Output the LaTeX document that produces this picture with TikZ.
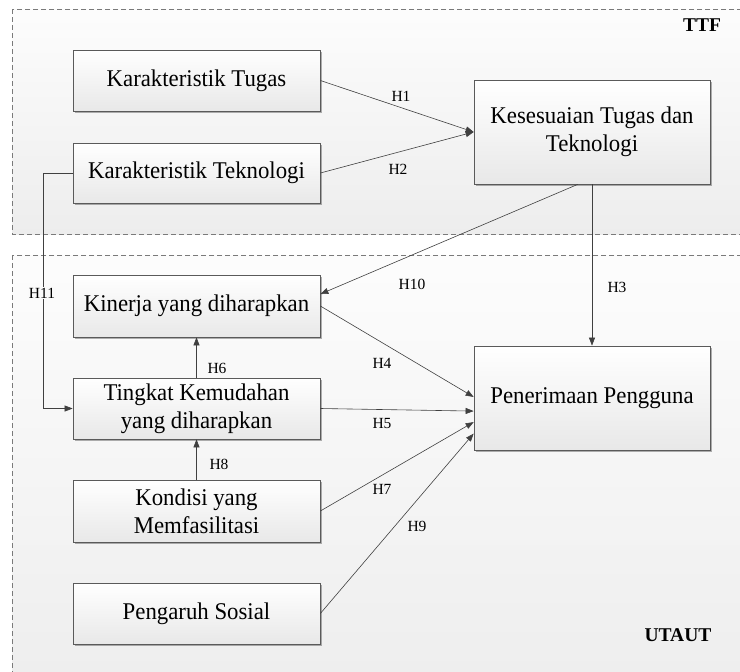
\documentclass[tikz,border=0pt]{standalone}
\usepackage{fontspec}
\setmainfont{Liberation Serif}
\newfontfamily\boxfont{Liberation Serif}[FakeStretch=0.95]
\usetikzlibrary{arrows.meta,shadows,calc}
\definecolor{edgec}{HTML}{404040}
\definecolor{framec}{HTML}{5A5A5A}
\definecolor{dashc}{HTML}{7A7A7A}
\begin{document}
\begin{tikzpicture}[x=1pt,y=-1pt,
  box/.style={draw=framec, line width=0.7pt, top color=white, bottom color=black!9,
    minimum height=61pt, minimum width=247pt, inner sep=0pt, align=center,
    font=\boxfont\fontsize{24}{28}\selectfont,
    drop shadow={shadow xshift=1.5pt, shadow yshift=-1.5pt, opacity=0.3, fill=black}},
  bigbox/.style={box, minimum width=236pt, minimum height=104pt},
  conn/.style={draw=edgec, line width=0.6pt, -{Triangle[length=8pt,width=6pt]}},
  hlab/.style={font=\fontsize{15.5}{18}\selectfont, inner sep=1pt},
  region/.style={draw=dashc, line width=0.8pt, dash pattern=on 5pt off 3pt,
    top color=black!1, bottom color=black!7},
  tag/.style={font=\bfseries\fontsize{19.5}{22}\selectfont}]
\useasboundingbox (0,0) rectangle (740,672);
\fill[white] (0,0) rectangle (740,672);
\begin{scope}
  \clip (0,0) rectangle (740,672);
  \path[region] (12,9) rectangle (760,234);
  \path[region] (12,255) rectangle (760,700);
\end{scope}

\node[tag] (ttf) at (702,25) {TTF};
\node[tag] (utaut) at (678,635) {UTAUT};

\node[box] (tugas) at (196.5,80.5) {Karakteristik Tugas};
\node[box, minimum height=60pt] (tek) at (196.5,173) {Karakteristik Teknologi};
\node[bigbox] (kes) at (592,132) {Kesesuaian Tugas dan\\Teknologi};
\node[box, minimum height=62pt] (kin) at (196.5,306) {Kinerja yang diharapkan};
\node[box] (tin) at (196.5,408.5) {Tingkat Kemudahan\\yang diharapkan};
\node[box, minimum height=62pt] (kon) at (196.5,511) {Kondisi yang\\Memfasilitasi};
\node[bigbox] (pen) at (592,398) {Penerimaan Pengguna};
\node[box] (sos) at (196.5,613.5) {Pengaruh Sosial};

\draw[conn] (tugas.east) -- (kes.west);
\draw[conn] (tek.east) -- (kes.west);
\draw[conn] ($(kes.south west)!0.44!(kes.south east)$) -- ($(kin.north east)!0.31!(kin.south east)$);
\draw[conn] (kes.south) -- (pen.north);
\draw[conn] (kin.east) -- ($(pen.north west)!0.49!(pen.south west)$);
\draw[conn] (tin.east) -- ($(pen.north west)!0.625!(pen.south west)$);
\draw[conn] (kon.east) -- ($(pen.north west)!0.73!(pen.south west)$);
\draw[conn] (sos.east) -- ($(pen.north west)!0.84!(pen.south west)$);
\draw[conn] (tin.north) -- (kin.south);
\draw[conn] (kon.north) -- (tin.south);
\coordinate (h11) at (43,173);
\draw[conn] (tek.west) -- (h11) |- (tin.west);

\node[hlab] (l1) at (401,96) {H1};
\node[hlab] (l2) at (398,169) {H2};
\node[hlab] (l10) at (412,284) {H10};
\node[hlab] (l3) at (617,287) {H3};
\node[hlab] (l4) at (382,363) {H4};
\node[hlab] (l5) at (382,423) {H5};
\node[hlab] (l6) at (217,368) {H6};
\node[hlab] (l7) at (382,489) {H7};
\node[hlab] (l8) at (219,464) {H8};
\node[hlab] (l9) at (417,526) {H9};
\node[hlab, fill=black!2] (l11) at (42,293) {H11};
\end{tikzpicture}
\end{document}
